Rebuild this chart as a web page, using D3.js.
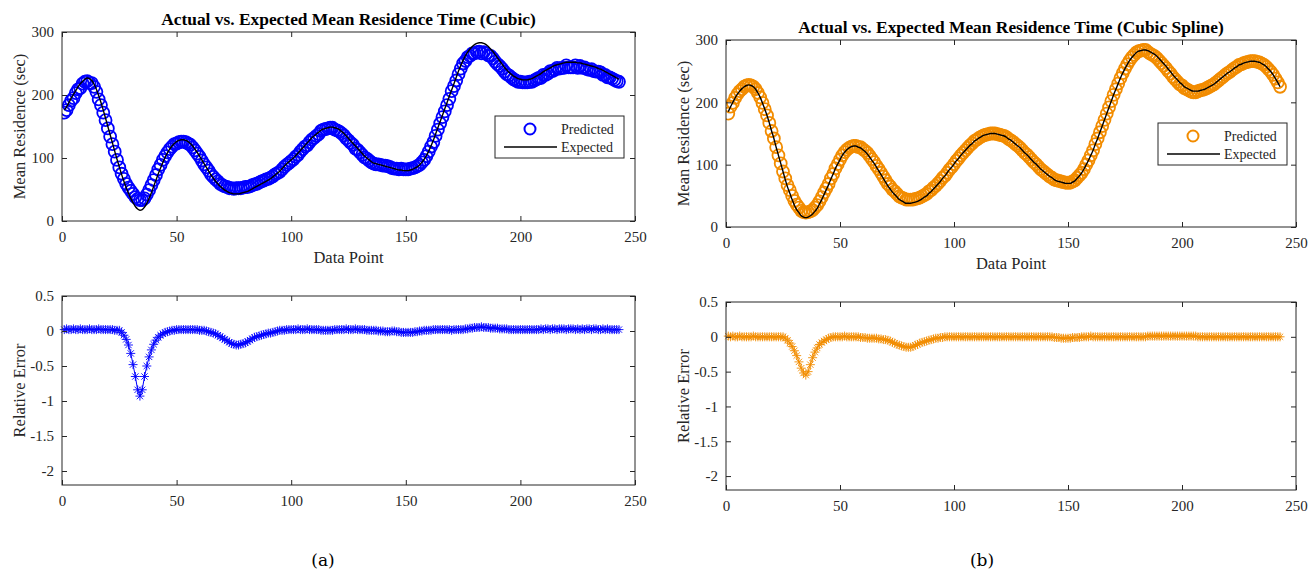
<!DOCTYPE html>
<html>
<head>
<meta charset="utf-8">
<script src="https://cdn.jsdelivr.net/npm/d3@7"></script>
<style>
  body { margin: 0; background: #fff; }
  svg { display: block; }
  text { font-family: "Liberation Serif", "Times New Roman", serif; fill: #262626; }
</style>
</head>
<body>
<svg id="chart" width="1311" height="573"></svg>
<script>
// data points 1..243
const expectedA = [176,181,188,195,201,207,213,218,222,225,227,226,223,217,209,199,188,176,163,150,
  137,124,111,98,86,74,63,53,44,36,29,23,19,17,18,22,28,36,45,55,
  65,75,84,93,101,108,114,119,123,126,128,129,129,128,126,123,119,114,109,103,
  97,91,85,79,73,68,63,59,55,52,49,47,45,44,43,43,43,44,45,46,
  47,49,51,53,55,57,59,61,63,65,67,70,73,76,79,83,87,91,94,97,
  100,104,108,112,116,120,124,128,132,135,138,141,144,146,147,148,149,149,148,147,
  145,142,139,135,131,127,123,119,115,111,107,103,100,97,94,92,91,90,89,88,
  87,86,85,84,83,82,81,81,80,80,80,81,82,84,86,89,93,98,104,111,
  119,128,138,148,158,168,178,188,198,208,218,228,238,247,255,262,268,273,277,280,
  282,283,283,282,280,277,273,269,264,259,254,249,244,240,236,233,230,228,226,225,
  224,224,224,225,226,228,230,232,234,237,239,241,243,245,247,248,249,250,251,252,
  252,252,252,252,251,251,250,249,248,247,246,245,244,242,241,239,237,235,233,231,
  229,227,225];
const predictedA = [172,176,184,191,195,203,209,211,218,221,222,219,219,213,205,193,184,172,160,147,
  134,122,110,97,85,75,67,59,53,48,43,38,35,33,33,36,42,49,57,65,
  73,82,89,97,103,109,114,118,122,123,125,126,126,125,123,121,117,112,107,102,
  96,90,85,80,74,70,66,63,59,57,55,54,52,52,51,52,52,52,53,54,
  54,55,57,58,59,61,63,64,66,67,69,71,74,76,78,82,86,89,92,95,
  98,102,105,110,114,118,120,125,129,132,135,138,143,145,146,147,148,148,145,144,
  142,139,136,131,128,124,121,115,113,109,105,101,99,96,93,91,90,90,89,88,
  88,87,86,84,83,83,82,83,82,82,82,83,84,85,87,89,93,97,103,110,
  118,125,135,145,155,165,174,184,194,206,214,223,233,242,250,254,260,262,266,266,
  268,269,266,268,266,263,262,258,253,249,246,242,237,233,231,228,225,223,221,221,
  220,220,220,221,221,223,225,227,227,232,232,234,238,238,240,243,242,243,243,247,
  244,244,244,247,243,246,243,244,241,240,241,238,237,237,236,232,232,228,228,226,
  224,222,221];
const errorA = [0.02,0.03,0.02,0.02,0.03,0.02,0.02,0.03,0.02,0.02,0.02,0.03,0.02,0.02,0.02,0.03,0.02,0.02,0.02,0.02,
  0.02,0.02,0.01,0.01,0.01,-0.02,-0.06,-0.12,-0.2,-0.32,-0.48,-0.65,-0.84,-0.93,-0.84,-0.65,-0.5,-0.37,-0.27,-0.19,
  -0.13,-0.09,-0.06,-0.04,-0.02,-0.01,0,0.01,0.01,0.02,0.02,0.02,0.02,0.02,0.02,0.02,0.02,0.02,0.02,0.01,
  0.01,0.01,0,-0.01,-0.02,-0.03,-0.04,-0.06,-0.08,-0.1,-0.12,-0.14,-0.16,-0.18,-0.19,-0.2,-0.2,-0.19,-0.18,-0.17,
  -0.15,-0.13,-0.11,-0.09,-0.08,-0.07,-0.06,-0.05,-0.04,-0.03,-0.03,-0.02,-0.01,0,0.01,0.01,0.01,0.02,0.02,0.02,
  0.02,0.02,0.03,0.02,0.02,0.02,0.03,0.02,0.02,0.02,0.02,0.02,0.01,0.01,0.01,0.01,0.01,0.01,0.02,0.02,
  0.02,0.02,0.02,0.03,0.02,0.02,0.02,0.03,0.02,0.02,0.02,0.02,0.01,0.01,0.01,0.01,0.01,0,0,0,
  -0.01,-0.01,-0.01,0,0,-0.01,-0.01,-0.02,-0.02,-0.02,-0.02,-0.02,-0.02,-0.01,-0.01,0,0,0.01,0.01,0.01,
  0.01,0.02,0.02,0.02,0.02,0.02,0.02,0.02,0.02,0.01,0.02,0.02,0.02,0.02,0.02,0.03,0.03,0.04,0.04,0.05,
  0.05,0.05,0.06,0.05,0.05,0.05,0.04,0.04,0.04,0.04,0.03,0.03,0.03,0.03,0.02,0.02,0.02,0.02,0.02,0.02,
  0.02,0.02,0.02,0.02,0.02,0.02,0.02,0.02,0.03,0.02,0.03,0.03,0.02,0.03,0.03,0.02,0.03,0.03,0.03,0.02,
  0.03,0.03,0.03,0.02,0.03,0.02,0.03,0.02,0.03,0.03,0.02,0.03,0.03,0.02,0.02,0.03,0.02,0.03,0.02,0.02,
  0.02,0.02,0.02];

const expectedB = [185,193,200,207,213,218,222,225,227,228,227,225,221,215,208,199,189,179,167,154,
  142,128,115,102,89,76,64,54,44,35,28,23,18,16,15,16,18,21,25,30,
  37,44,52,60,68,77,85,94,101,108,115,120,124,127,129,130,130,128,127,124,
  121,117,112,107,102,96,90,84,78,72,66,61,56,52,48,44,42,40,38,38,
  38,39,40,41,43,45,48,50,54,57,61,65,69,73,78,82,87,92,96,101,
  106,110,115,119,123,127,131,134,138,140,143,145,147,148,149,150,150,150,149,148,
  147,146,144,141,139,136,133,130,127,123,119,116,112,108,104,101,97,93,90,87,
  84,81,79,76,74,73,72,71,70,70,70,72,74,78,82,87,93,100,107,115,
  123,133,142,152,162,172,182,192,202,212,221,230,239,247,254,261,267,272,276,280,
  282,283,284,284,283,281,279,277,274,270,266,262,258,253,249,244,240,236,232,229,
  225,223,221,219,218,218,218,219,220,221,223,225,227,229,232,235,238,241,244,247,
  249,252,255,257,260,261,263,264,265,266,266,266,265,264,262,260,257,253,249,244,
  238,232,225];
const predictedB = [182,193,199,207,213,218,221,225,227,228,227,225,221,215,208,199,189,179,167,154,
  142,128,115,102,89,78,67,59,50,42,36,31,26,24,23,24,25,27,31,35,
  41,48,55,62,69,78,85,94,101,108,115,120,124,127,129,130,130,128,128,125,
  122,119,114,109,104,98,93,87,81,75,69,65,60,57,53,49,47,46,44,44,
  44,44,45,46,47,49,51,53,57,59,63,66,70,74,79,82,87,92,96,101,
  106,110,115,119,123,127,131,134,138,140,143,145,147,148,149,150,150,150,149,148,
  147,146,144,141,139,136,133,130,127,123,119,116,112,108,104,101,97,93,90,87,
  84,81,79,76,75,74,73,72,71,71,71,73,75,79,83,87,93,100,107,115,
  123,133,142,152,162,172,182,192,202,212,221,230,239,247,254,261,267,272,276,280,
  282,283,284,284,281,278,276,274,271,267,263,259,255,250,246,241,237,233,229,227,
  223,221,219,217,216,216,218,219,220,221,223,225,227,229,232,235,238,241,244,247,
  249,252,255,257,260,261,263,264,265,266,266,266,265,264,262,260,257,253,249,244,
  238,232,225];
const errorB = [0.01,0,0.01,0,0,0.01,0,0,0,0,0,0.01,0,0,0,0,0,0,0,0,
  0,0,0,0,0,-0.02,-0.05,-0.09,-0.14,-0.2,-0.27,-0.36,-0.45,-0.52,-0.55,-0.5,-0.4,-0.3,-0.22,-0.16,
  -0.11,-0.08,-0.06,-0.04,-0.02,-0.01,0,0,0,0,0,0.01,0,0,0,0,0,0,-0.01,-0.01,
  -0.01,-0.02,-0.02,-0.02,-0.02,-0.02,-0.03,-0.03,-0.04,-0.04,-0.05,-0.06,-0.08,-0.09,-0.11,-0.12,-0.13,-0.14,-0.15,-0.15,
  -0.15,-0.14,-0.12,-0.11,-0.09,-0.08,-0.07,-0.06,-0.05,-0.04,-0.03,-0.02,-0.02,-0.01,-0.01,0,0,0,0,0,
  0,0,0,0,0,0,0,0,0,0,0,0,0,0,0,0,0,0,0,0,
  0,0,0,0,0,0,0,0,0,0,0,0,0,0,0,0,0,0,0,0,
  0,0,0,-0.01,-0.01,-0.01,-0.02,-0.02,-0.02,-0.02,-0.02,-0.01,-0.01,-0.01,-0.01,0,0,0,0,0.01,
  0,0,0,0,0,0,0,0,0,0,0,0,0,0,0,0,0,0,0,0,
  0,0,0,0,0.01,0.01,0.01,0.01,0.01,0.01,0.01,0.01,0.01,0.01,0.01,0.01,0.01,0.01,0.01,0.01,
  0.01,0.01,0.01,0.01,0.01,0.01,0,0,0,0,0,0,0,0,0,0,0,0,0,0,
  0,0,0,0,0,0,0,0,0,0,0,0,0,0,0,0,0,0,0,0,
  0,0,0];

const xTicks = [0, 50, 100, 150, 200, 250];
const topYTicks = [0, 100, 200, 300];
const errYTicks = [0.5, 0, -0.5, -1, -1.5, -2];
const legendLabels = ['Predicted', 'Expected'];
const titles = ['Actual vs. Expected Mean Residence Time (Cubic)', 'Actual vs. Expected Mean Residence Time (Cubic Spline)'];

const svg = d3.select('#chart');
const axisColor = '#262626';

function frame(g, box, x, y, yTicks) {
    // box + inward ticks on all four sides (matlab style)
    g.append('rect')
        .attr('x', box.x0).attr('y', box.y0)
        .attr('width', box.x1 - box.x0).attr('height', box.y1 - box.y0)
        .attr('fill', 'none').attr('stroke', axisColor).attr('stroke-width', 1);

    let tick = 5;
    g.append('g').attr('transform', `translate(0,${box.y1})`)
        .call(d3.axisBottom(x).tickValues(xTicks).tickSize(-tick).tickSizeOuter(0).tickPadding(10).tickFormat(d => d))
        .call(a => a.select('.domain').remove());
    g.append('g').attr('transform', `translate(0,${box.y0})`)
        .call(d3.axisTop(x).tickValues(xTicks).tickSize(-tick).tickSizeOuter(0).tickFormat(''))
        .call(a => a.select('.domain').remove());
    g.append('g').attr('transform', `translate(${box.x0},0)`)
        .call(d3.axisLeft(y).tickValues(yTicks).tickSize(-tick).tickSizeOuter(0).tickPadding(8).tickFormat(d => String(d)))
        .call(a => a.select('.domain').remove());
    g.append('g').attr('transform', `translate(${box.x1},0)`)
        .call(d3.axisRight(y).tickValues(yTicks).tickSize(-tick).tickSizeOuter(0).tickFormat(''))
        .call(a => a.select('.domain').remove());

    g.selectAll('.tick line').attr('stroke', axisColor);
    g.selectAll('.tick text')
        .style('font-family', '"Liberation Serif", serif')
        .style('font-size', '15px')
        .attr('fill', axisColor);
}

function asterisk(s) {
    let d = s * 0.7;
    return `M${-s},0L${s},0M0,${-s}L0,${s}M${-d},${-d}L${d},${d}M${-d},${d}L${d},${-d}`;
}

function drawPanel(opts) {
    let xs = d3.range(1, opts.expected.length + 1);

    // top: residence time
    let tb = opts.topBox;
    let x = d3.scaleLinear().domain([0, 250]).range([tb.x0, tb.x1]);
    let y = d3.scaleLinear().domain([0, 300]).range([tb.y1, tb.y0]);
    let gTop = svg.append('g');

    let clipId = 'clip' + opts.id;
    svg.append('clipPath').attr('id', clipId)
        .append('rect').attr('x', tb.x0).attr('y', tb.y0)
        .attr('width', tb.x1 - tb.x0).attr('height', tb.y1 - tb.y0);

    let marks = gTop.append('g').attr('clip-path', `url(#${clipId})`);
    marks.selectAll('circle')
        .data(opts.predicted)
        .join('circle')
        .attr('cx', (d, i) => x(xs[i]))
        .attr('cy', d => y(d))
        .attr('r', 6)
        .attr('fill', 'none')
        .attr('stroke', opts.color)
        .attr('stroke-width', 1.8);

    let line = d3.line().x((d, i) => x(xs[i])).y(d => y(d)).curve(d3.curveMonotoneX);
    marks.append('path')
        .datum(opts.expected)
        .attr('d', line)
        .attr('fill', 'none')
        .attr('stroke', '#000')
        .attr('stroke-width', 1.4);

    frame(gTop, tb, x, y, topYTicks);

    gTop.append('text')
        .attr('x', (tb.x0 + tb.x1) / 2).attr('y', tb.y0 - 7)
        .attr('text-anchor', 'middle')
        .style('font-size', '17.4px').style('font-weight', 'bold')
        .style('fill', '#000')
        .text(opts.title);

    gTop.append('text')
        .attr('x', (tb.x0 + tb.x1) / 2).attr('y', tb.y1 + 42)
        .attr('text-anchor', 'middle')
        .style('font-size', '16.5px')
        .text('Data Point');

    gTop.append('text')
        .attr('transform', `translate(${tb.x0 - 37},${(tb.y0 + tb.y1) / 2}) rotate(-90)`)
        .attr('text-anchor', 'middle')
        .style('font-size', '16.5px')
        .text('Mean Residence (sec)');

    // legend
    let lg = gTop.append('g').attr('transform', `translate(${opts.legend[0]},${opts.legend[1]})`);
    lg.append('rect').attr('width', 129).attr('height', 42)
        .attr('fill', '#fff').attr('stroke', axisColor).attr('stroke-width', 1);
    lg.append('circle').attr('cx', 35).attr('cy', 13).attr('r', 5.5)
        .attr('fill', 'none').attr('stroke', opts.color).attr('stroke-width', 2);
    lg.append('line').attr('x1', 9).attr('x2', 62).attr('y1', 31).attr('y2', 31)
        .attr('stroke', '#000').attr('stroke-width', 1.4);
    lg.selectAll('text.lab')
        .data(legendLabels)
        .join('text')
        .attr('class', 'lab')
        .attr('x', 66)
        .attr('y', (d, i) => 13 + i * 18)
        .attr('dy', '0.35em')
        .style('font-size', '14px')
        .text(d => d);

    // bottom: relative error
    let bb = opts.botBox;
    let x2 = d3.scaleLinear().domain([0, 250]).range([bb.x0, bb.x1]);
    let y2 = d3.scaleLinear().domain([-2.2, 0.5]).range([bb.y1, bb.y0]);
    let gBot = svg.append('g');

    gBot.append('path')
        .datum(opts.error)
        .attr('d', d3.line().x((d, i) => x2(xs[i])).y(d => y2(d)))
        .attr('fill', 'none')
        .attr('stroke', opts.color)
        .attr('stroke-width', 1);

    gBot.selectAll('path.star')
        .data(opts.error)
        .join('path')
        .attr('class', 'star')
        .attr('transform', (d, i) => `translate(${x2(xs[i])},${y2(d)})`)
        .attr('d', asterisk(4.5))
        .attr('fill', 'none')
        .attr('stroke', opts.color)
        .attr('stroke-width', 0.9);

    frame(gBot, bb, x2, y2, errYTicks);

    gBot.append('text')
        .attr('transform', `translate(${bb.x0 - 37},${(bb.y0 + bb.y1) / 2}) rotate(-90)`)
        .attr('text-anchor', 'middle')
        .style('font-size', '16.5px')
        .text('Relative Error');

    svg.append('text')
        .attr('x', opts.caption[0]).attr('y', opts.caption[1])
        .attr('text-anchor', 'middle')
        .style('font-family', '"DejaVu Serif", serif')
        .style('font-size', '17px')
        .style('fill', '#000')
        .text(opts.captionText);
}

drawPanel({
    id: 'a',
    expected: expectedA, predicted: predictedA, error: errorA,
    color: '#0000ff',
    title: titles[0],
    topBox: {x0: 62, x1: 635, y0: 32, y1: 221},
    botBox: {x0: 62, x1: 635, y0: 296, y1: 485},
    legend: [495, 116],
    caption: [323, 566], captionText: '(a)'
});

drawPanel({
    id: 'b',
    expected: expectedB, predicted: predictedB, error: errorB,
    color: '#f28c00',
    title: titles[1],
    topBox: {x0: 726, x1: 1296, y0: 40, y1: 227},
    botBox: {x0: 726, x1: 1296, y0: 302, y1: 490},
    legend: [1158, 123],
    caption: [982, 566], captionText: '(b)'
});
</script>
</body>
</html>
